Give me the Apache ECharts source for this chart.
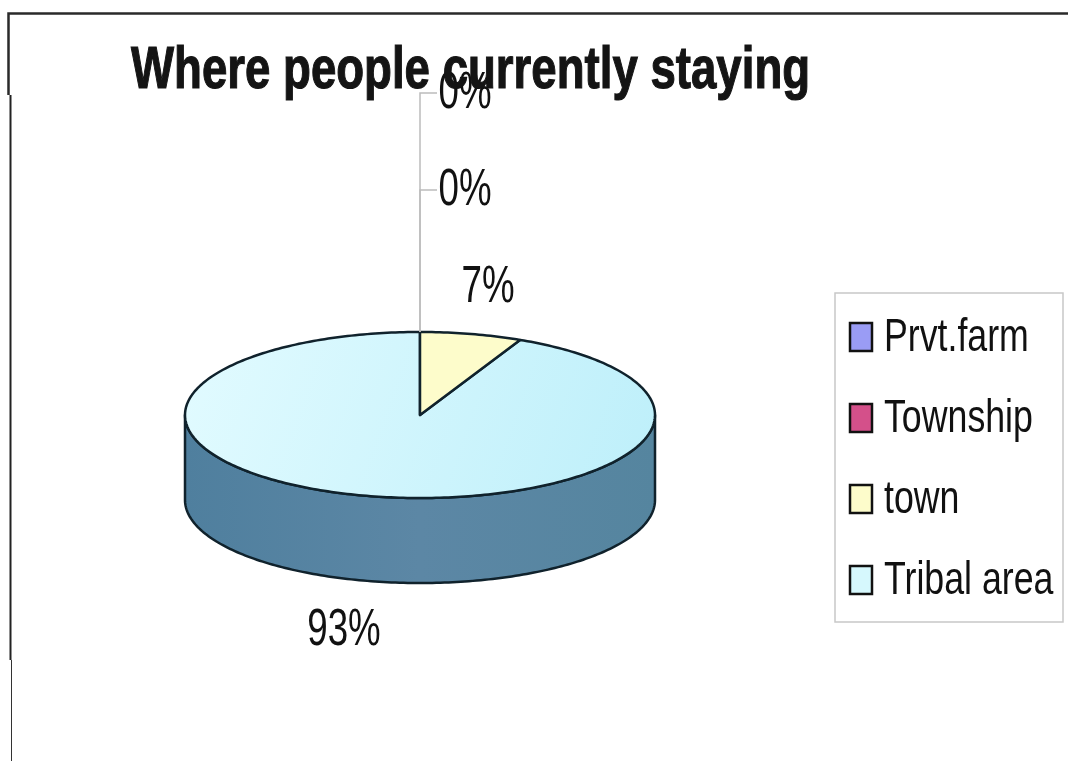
<!DOCTYPE html>
<html>
<head>
<meta charset="utf-8">
<style>html,body{margin:0;padding:0;background:#fff}#chart{width:1068px;height:761px}</style>
<script src="https://cdn.jsdelivr.net/npm/echarts@6/dist/echarts.min.js"></script>
</head>
<body>
<div id="chart"></div>
<script>
// Survey result: share of respondents by current place of residence.
const chartTitle = 'Where people currently staying';
const categories = ['Prvt.farm', 'Township', 'town', 'Tribal area'];
const shares = [0, 0, 7, 93];
const sliceColors = ['#9a9cf5', '#d4508a', '#fdfccb', '#d6f8fd'];

// Disc geometry and label placement for the tilted pie.
const disc = { cx: 420, cy: 415, rx: 235, ry: 83, depth: 85 };
const labelSpots = [
  { x: 465, y: 93.5, tickY: 93 },
  { x: 465, y: 190.5, tickY: 190 },
  { x: 488, y: 287.5 },
  { x: 344, y: 630.5 }
];
const legendBox = { x: 835, y: 293, width: 228, height: 329, firstRow: 337, rowGap: 81 };
const outline = '#10222c';
const family = '"Liberation Sans", Arial, sans-serif';

const total = shares.reduce((a, b) => a + b, 0);
const startOf = i => shares.slice(0, i).reduce((a, b) => a + b, 0) / total * 360;

function rimPoint(deg, drop) {
  const t = deg * Math.PI / 180;
  return [disc.cx + disc.rx * Math.sin(t), disc.cy - disc.ry * Math.cos(t) + (drop || 0)];
}

function arc(from, to, drop) {
  const pts = [];
  const steps = Math.max(1, Math.ceil(Math.abs(to - from)));
  for (let k = 0; k <= steps; k++) pts.push(rimPoint(from + (to - from) * k / steps, drop));
  return pts;
}

function sliceRenderer(index) {
  return function (params, api) {
    const value = api.value(0);
    const from = startOf(index);
    const to = from + value / total * 360;
    const children = [];
    const sideFrom = Math.max(from, 90);
    const sideTo = Math.min(to, 270);
    if (sideTo > sideFrom) {
      children.push({
        type: 'polygon',
        shape: { points: arc(sideFrom, sideTo, 0).concat(arc(sideTo, sideFrom, disc.depth)) },
        style: {
          fill: new echarts.graphic.LinearGradient(0, 0, 1, 0, [
            { offset: 0, color: '#4f7f9e' },
            { offset: 0.5, color: '#5c87a5' },
            { offset: 1, color: '#55859f' }
          ]),
          stroke: outline, lineWidth: 2.5, lineJoin: 'round'
        }
      });
    }
    if (value > 0) {
      const isLarge = index === shares.length - 1;
      children.push({
        type: 'polygon',
        shape: { points: [[disc.cx, disc.cy]].concat(arc(from, to, 0)) },
        style: {
          fill: isLarge
            ? new echarts.graphic.LinearGradient(0, 0, 1, 1, [
                { offset: 0, color: '#e2fbff' },
                { offset: 1, color: '#bdeffa' }
              ])
            : sliceColors[index],
          stroke: outline, lineWidth: 2.5, lineJoin: 'round'
        }
      });
    }
    const spot = labelSpots[index];
    if (spot.tickY !== undefined) {
      const rim = rimPoint(from, 0);
      children.push({
        type: 'polyline',
        shape: { points: [rim, [rim[0], spot.tickY], [rim[0] + 17, spot.tickY]] },
        style: { fill: 'none', stroke: '#bcbcbc', lineWidth: 1.5 }
      });
    }
    children.push({
      type: 'text',
      x: spot.x,
      y: spot.y,
      scaleX: 0.72,
      style: {
        text: Math.round(value / total * 100) + '%',
        font: '51px ' + family,
        fill: '#111',
        align: 'center',
        verticalAlign: 'middle'
      }
    });
    return { type: 'group', children };
  };
}

// Condensed text: the installed sans has no narrow cut, so glyphs are squeezed horizontally.
const titleGraphic = {
  type: 'text',
  silent: true,
  z: 5,
  x: 131,
  y: 71,
  scaleX: 0.76,
  style: {
    text: chartTitle,
    font: 'bold 60px ' + family,
    fill: '#141414',
    stroke: '#141414',
    lineWidth: 1.2,
    textAlign: 'left',
    textVerticalAlign: 'middle'
  }
};

// Key panel on the right: one swatch and name per category.
const legendGraphics = [{
  type: 'rect',
  silent: true,
  z: 4,
  shape: { x: legendBox.x, y: legendBox.y, width: legendBox.width, height: legendBox.height },
  style: { fill: '#fff', stroke: '#c8c8c8', lineWidth: 1.5 }
}];
categories.forEach((name, i) => {
  const rowY = legendBox.firstRow + i * legendBox.rowGap;
  legendGraphics.push({
    type: 'rect',
    silent: true,
    z: 5,
    shape: { x: 850, y: rowY - 14, width: 22, height: 28 },
    style: { fill: sliceColors[i], stroke: '#111', lineWidth: 2.5 }
  });
  legendGraphics.push({
    type: 'text',
    silent: true,
    z: 5,
    x: 884,
    y: rowY + 1,
    scaleX: 0.76,
    style: {
      text: name,
      font: '47px ' + family,
      fill: '#111',
      textAlign: 'left',
      textVerticalAlign: 'middle'
    }
  });
});

const frameGraphics = [
  { type: 'polyline', silent: true, shape: { points: [[1068, 13.5], [8.5, 13.5], [8.5, 95]] }, style: { fill: 'none', stroke: '#2a2a2a', lineWidth: 2.5 } },
  { type: 'line', silent: true, shape: { x1: 10.5, y1: 95, x2: 10.5, y2: 660 }, style: { stroke: '#222', lineWidth: 2 } },
  { type: 'line', silent: true, shape: { x1: 11.5, y1: 660, x2: 11.5, y2: 761 }, style: { stroke: '#333', lineWidth: 1 } }
];

// The larger slice is painted first so smaller ones sit on top of it.
const drawOrder = [3, 2, 1, 0];
const chart = echarts.init(document.getElementById('chart'), null, { renderer: 'canvas' });
chart.setOption({
  backgroundColor: '#fff',
  animation: false,
  graphic: frameGraphics.concat(legendGraphics, [titleGraphic]),
  series: drawOrder.map(i => ({
    type: 'custom',
    name: categories[i],
    coordinateSystem: 'none',
    silent: true,
    itemStyle: { color: sliceColors[i] },
    renderItem: sliceRenderer(i),
    data: [[shares[i]]]
  }))
});
</script>
</body>
</html>
